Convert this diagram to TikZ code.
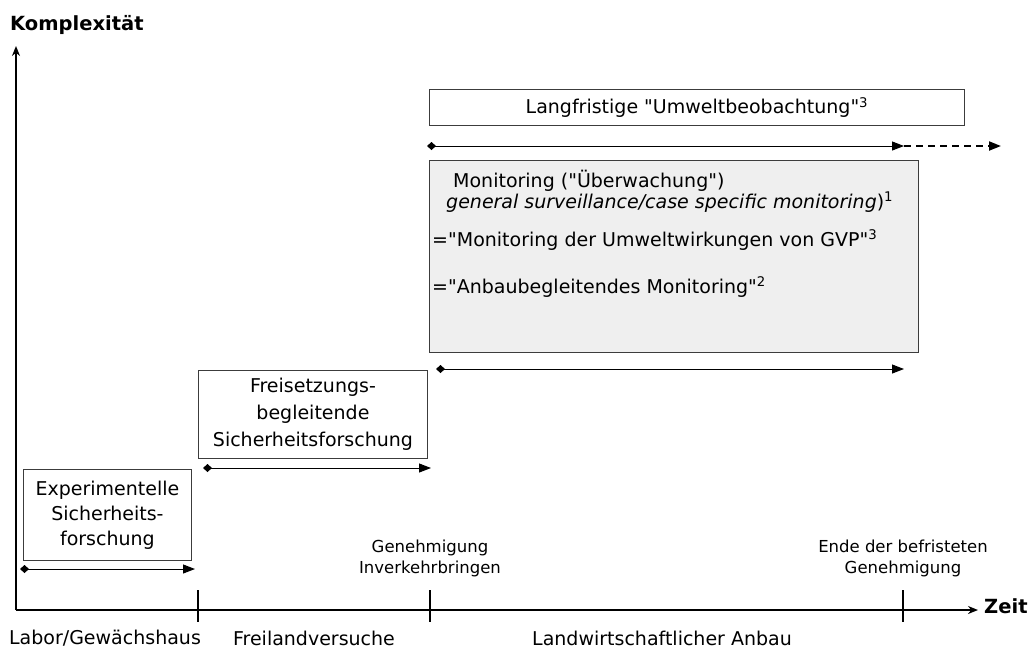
\documentclass[tikz,border=0pt]{standalone}
\usepackage{fontspec}
\setmainfont[Ligatures=TeXOff]{DejaVu Sans}
\usetikzlibrary{arrows.meta,positioning}
\definecolor{boxgray}{RGB}{239,239,239}
\definecolor{edgegray}{RGB}{60,60,60}
\tikzset{
  phase/.style={draw=edgegray,line width=0.9pt,align=center,anchor=north west,
    inner sep=0pt,font=\fontsize{19}{25}\selectfont},
  span/.style={{Diamond[length=9pt,width=8pt]}-{Triangle[length=12pt,width=9pt]},line width=1pt},
  marktext/.style={align=center,font=\fontsize{16.5}{21}\selectfont},
  zonetext/.style={font=\fontsize{19}{22}\selectfont},
  montext/.style={anchor=base west,inner sep=0pt,font=\fontsize{19}{22}\selectfont},
}
\begin{document}
\begin{tikzpicture}[x=1pt,y=-1pt]
\useasboundingbox (0,0) rectangle (1033,649);
% axes
\coordinate (origin) at (16,610);
\coordinate (ytop) at (16,46);
\coordinate (xend) at (978,610);
\draw[-{Stealth[length=10pt,width=8pt]},line width=1.5pt](origin)--(ytop);
\draw[-{Stealth[length=10pt,width=8pt]},line width=2.5pt](origin)--(xend);
\node[font=\fontsize{19.5}{22}\selectfont\bfseries,anchor=west,inner sep=0pt](ylabel)at(10,25){Komplexität};
\node[font=\fontsize{19.5}{22}\selectfont\bfseries,anchor=west,inner sep=0pt](xlabel)at(984,606){Zeit};
\foreach \t in {198,430,903}
  \draw[line width=2pt](\t,590)--(\t,622);
% zones below the time axis
\node[zonetext](labor)at(105,638){Labor/Gewächshaus};
\node[zonetext](frei)at(314,638){Freilandversuche};
\node[zonetext](anbau)at(662,638){Landwirtschaftlicher Anbau};
\node[marktext](genehm)at(430,558){Genehmigung\\Inverkehrbringen};
\node[marktext](ende)at(903,558){Ende der befristeten\\Genehmigung};
% phases
\node[phase,minimum width=168,minimum height=91](exp)at(23,469)
  {Experimentelle\\Sicherheits-\\forschung};
\node[phase,minimum width=229,minimum height=88,font=\fontsize{19}{27}\selectfont](freis)at(198,370)
  {Freisetzungs-\\begleitende\\Sicherheitsforschung};
\node[phase,fill=boxgray,minimum width=489,minimum height=192](mon)at(429,160){};
\node[phase,minimum width=535,minimum height=36](umw)at(429,89)
  {Langfristige "Umweltbeobachtung"\textsuperscript{3}};
\node[montext](mon1)at(453,187){Monitoring ("Überwachung")};
\node[montext](mon2)at(446,208)
  {\textit{general surveillance/case specific monitoring})\textsuperscript{1}};
\node[montext](mon3)at(432,246)
  {="Monitoring der Umweltwirkungen von GVP"\textsuperscript{3}};
\node[montext](mon4)at(432,293)
  {="Anbaubegleitendes Monitoring"\textsuperscript{2}};
% time spans
\coordinate (s1a) at (20,569); \coordinate (s1b) at (195,569);
\coordinate (s2a) at (203,468); \coordinate (s2b) at (431,468);
\coordinate (s3a) at (436,369); \coordinate (s3b) at (904,369);
\coordinate (s4a) at (427,146); \coordinate (s4b) at (904,146);
\coordinate (s4c) at (1001,146);
\draw[span](s1a)--(s1b);
\draw[span](s2a)--(s2b);
\draw[span](s3a)--(s3b);
\draw[span](s4a)--(s4b);
\draw[-{Triangle[length=12pt,width=9pt]},line width=2pt,dash pattern=on 7pt off 5pt](s4b)--(s4c);
\end{tikzpicture}
\end{document}
